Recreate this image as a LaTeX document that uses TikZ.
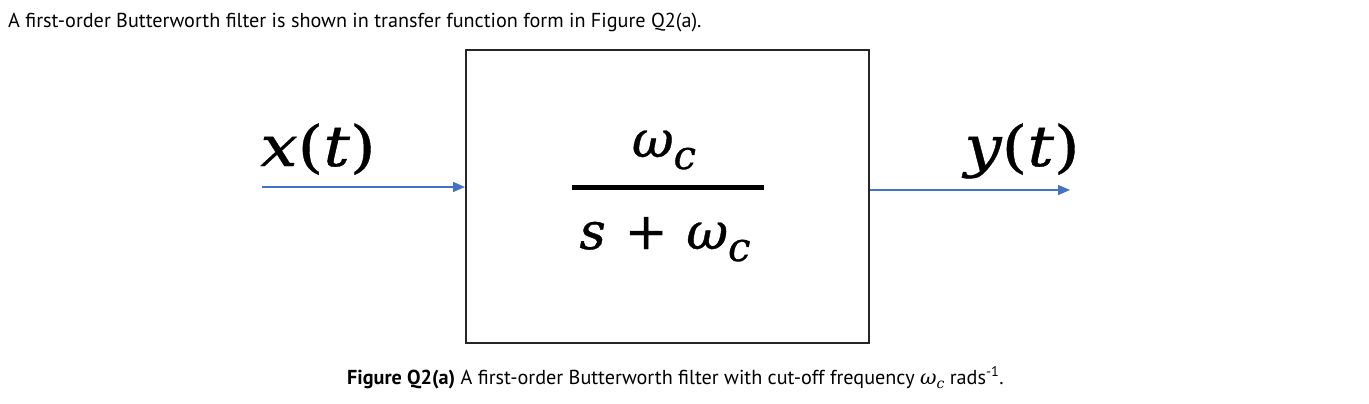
\documentclass[tikz,border=0pt]{standalone}
\usepackage{fontspec}
\setmainfont{PT Sans}
\newfontfamily\mfont{DejaVu Serif}
\newfontfamily\bfont[UprightFeatures={FakeBold=0.8}, ItalicFeatures={FakeBold=0.8}]{DejaVu Serif}
\newfontfamily\wfont[UprightFeatures={FakeBold=0.7, FakeStretch=1.18}, ItalicFeatures={FakeBold=0.7, FakeStretch=1.18}]{DejaVu Serif}
\usetikzlibrary{arrows.meta}
\definecolor{arrowblue}{HTML}{4472C4}
\newcommand{\mvar}[1]{{\itshape #1}}
\newcommand{\sub}[2]{\raisebox{#2}{\fontsize{#1}{#1}\selectfont\mvar{c}}}
\tikzset{
  sig/.style={draw=arrowblue, line width=1.6pt, -{Triangle[length=12pt,width=10pt]}},
  blockbox/.style={draw=black!85, line width=2pt, minimum width=403pt, minimum height=292pt, inner sep=0pt},
  fraclabel/.style={font=\fontsize{51}{56}\selectfont\bfont, inner sep=0pt},
  siglabel/.style={font=\fontsize{56}{62}\selectfont\wfont, inner sep=0pt},
  fracbar/.style={line width=5pt},
  bodytext/.style={font=\fontsize{20.2}{24}\selectfont, inner sep=0pt, anchor=base west}
}
\begin{document}
\begin{tikzpicture}[x=1pt,y=-1pt]
\useasboundingbox[fill=white] (0,0) rectangle (1369,404);
\node[bodytext] (intro) at (8,28) {A first-order Butterworth filter is shown in transfer function form in Figure Q2(a).};
\node[blockbox] (blk) at (667.5,196.5) {};
\node[fraclabel, anchor=base] (num) at (664,157) {\mvar{ω}\sub{40}{-12pt}};
\coordinate (barL) at (572,187);
\coordinate (barR) at (764,187);
\draw[fracbar] (barL) -- (barR);
\node[fraclabel, anchor=base] (den) at (665,249) {\mvar{s}\hspace{19pt}+\hspace{19pt}\mvar{ω}\sub{40}{-12pt}};
\coordinate (xin) at (262,187);
\coordinate (yout) at (1070,190);
\draw[sig] (xin) -- (blk.west |- xin);
\draw[sig] (blk.east |- yout) -- (yout);
\node[siglabel, anchor=base] (xl) at (318,166) {\mvar{x}(\mvar{t})};
\node[siglabel, anchor=base] (yl) at (1022,166) {\mvar{y}(\mvar{t})};
\node[bodytext] (cap) at (347,384) {\textbf{Figure Q2(a)} A first-order Butterworth filter with cut-off frequency {\mfont\mvar{ω}\sub{14}{-4pt}} rads\textsuperscript{-1}.};
\end{tikzpicture}
\end{document}
